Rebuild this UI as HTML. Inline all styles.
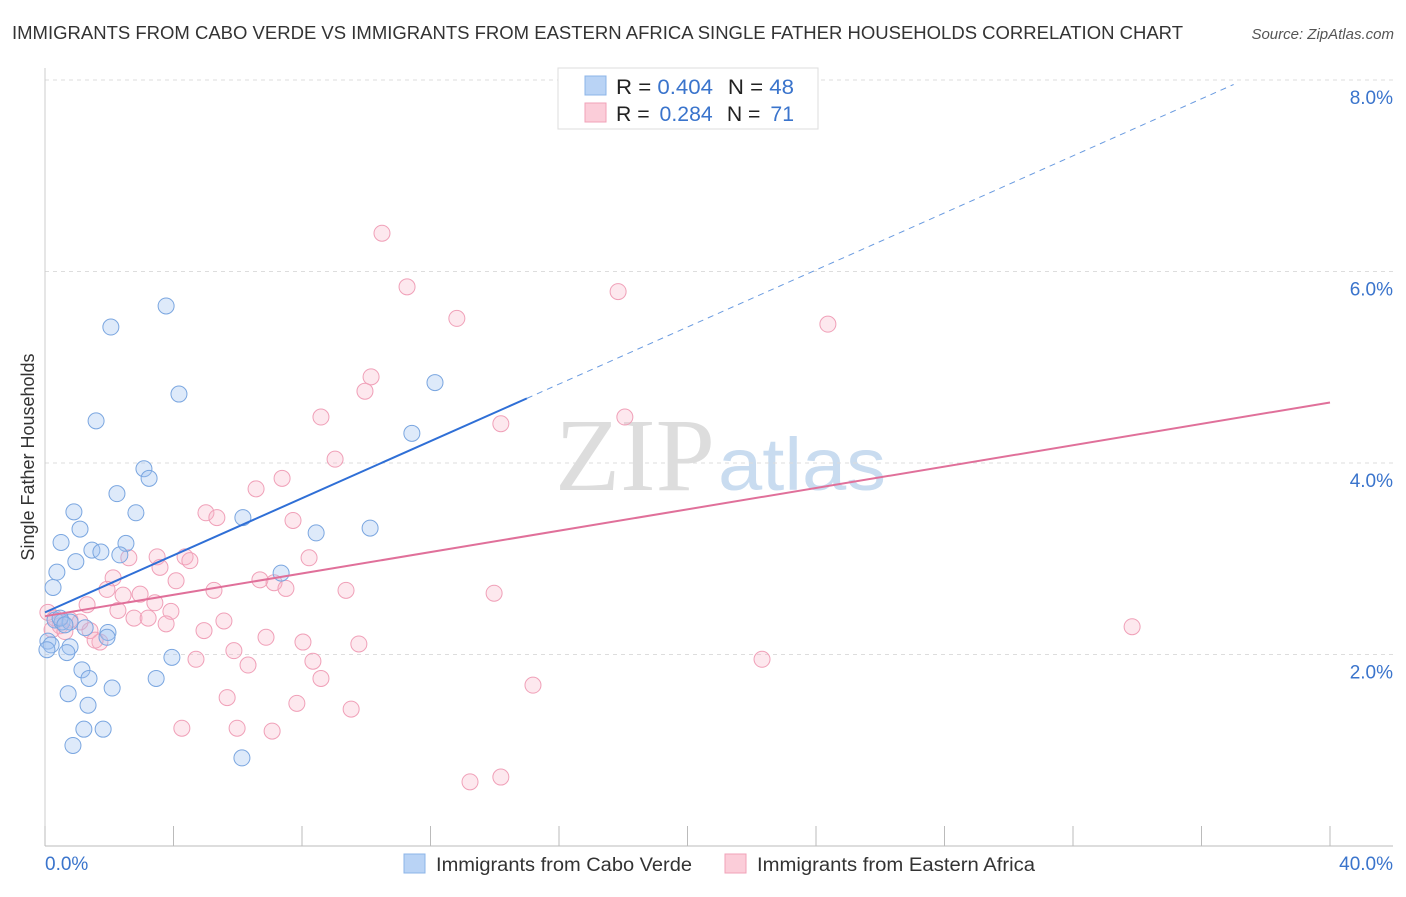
<!DOCTYPE html>
<html><head><meta charset="utf-8"><style>
body{margin:0;background:#fff;font-family:"Liberation Sans",sans-serif;}
</style></head><body>
<svg id="chart" width="1406" height="892" xmlns="http://www.w3.org/2000/svg" style="font-family:'Liberation Sans',sans-serif">
<text x="12" y="39" font-size="18" fill="#333" textLength="1171" lengthAdjust="spacingAndGlyphs">IMMIGRANTS FROM CABO VERDE VS IMMIGRANTS FROM EASTERN AFRICA SINGLE FATHER HOUSEHOLDS CORRELATION CHART</text>
<text x="1394" y="39" font-size="15" fill="#555" font-style="italic" text-anchor="end">Source: ZipAtlas.com</text>
<text x="555" y="490" font-size="104" fill="#ddd" textLength="160" lengthAdjust="spacingAndGlyphs" font-family="Liberation Serif,serif">ZIP</text>
<text x="718" y="490" font-size="74" fill="#c9dcf0" textLength="168" lengthAdjust="spacingAndGlyphs">atlas</text>
<text transform="translate(34,457) rotate(-90)" font-size="18" fill="#333" text-anchor="middle">Single Father Households</text>
<g id="grid"></g><g id="axes"></g><g id="pts"></g><g id="trend"></g>
<g>
<rect x="558" y="68" width="260" height="61" fill="#fff" stroke="#ddd"/>
<rect x="585" y="76" width="21" height="19" fill="#b9d3f5" stroke="#8cb4e8"/>
<rect x="585" y="103" width="21" height="19" fill="#fbcdd9" stroke="#f0a2b8"/>
<text x="616" y="94" font-size="21" fill="#222" textLength="178" lengthAdjust="spacingAndGlyphs">R = <tspan fill="#3a74cc">0.404</tspan><tspan dx="14">N = </tspan><tspan fill="#3a74cc">48</tspan></text>
<text x="616" y="121" font-size="21" fill="#222" textLength="178" lengthAdjust="spacingAndGlyphs">R = <tspan dx="4" fill="#3a74cc">0.284</tspan><tspan dx="14">N = </tspan><tspan dx="4" fill="#3a74cc">71</tspan></text>
</g>
<g>
<rect x="404" y="854" width="21" height="19" fill="#b9d3f5" stroke="#8cb4e8"/>
<text x="436" y="871" font-size="19" fill="#333" textLength="256" lengthAdjust="spacingAndGlyphs">Immigrants from Cabo Verde</text>
<rect x="725" y="854" width="21" height="19" fill="#fbcdd9" stroke="#f0a2b8"/>
<text x="757" y="871" font-size="19" fill="#333" textLength="278" lengthAdjust="spacingAndGlyphs">Immigrants from Eastern Africa</text>
</g>
</svg>
<script>
const yTicks=[2,4,6,8];
const xTickLabels=["0.0%","40.0%"];
const blueX=[3.77,2.05,4.17,1.59,12.14,11.42,3.08,3.24,2.24,0.90,2.83,6.16,1.09,0.50,2.52,1.46,1.74,2.33,0.96,0.37,8.44,10.12,7.35,0.25,0.31,0.53,0.78,1.25,1.96,1.93,0.09,0.19,0.06,0.78,0.68,3.95,1.15,1.37,3.46,2.09,0.72,1.34,1.21,1.81,0.87,6.13,0.47,0.62];
const blueY=[5.64,5.42,4.72,4.44,4.84,4.31,3.94,3.84,3.68,3.49,3.48,3.43,3.31,3.17,3.16,3.09,3.07,3.04,2.97,2.86,3.27,3.32,2.85,2.70,2.36,2.34,2.34,2.28,2.23,2.18,2.14,2.10,2.05,2.08,2.02,1.97,1.84,1.75,1.75,1.65,1.59,1.47,1.22,1.22,1.05,0.92,2.38,2.31];
const pinkX=[10.49,11.27,17.84,12.82,24.37,10.15,9.96,8.59,18.05,14.19,9.03,7.38,6.57,5.01,5.35,7.72,8.22,3.49,2.61,4.36,4.51,3.58,4.08,2.12,6.69,7.13,7.50,5.26,9.37,13.98,1.93,2.43,2.96,3.42,1.31,2.27,3.92,2.77,3.21,5.57,3.77,0.78,0.47,1.40,4.95,6.88,8.03,1.71,9.77,5.88,4.70,8.34,6.32,8.59,15.19,5.67,7.84,9.53,4.26,5.98,7.07,22.32,33.84,13.23,14.19,0.09,0.22,0.62,1.09,1.56,0.31];
const pinkY=[6.40,5.84,5.79,5.51,5.45,4.90,4.75,4.48,4.48,4.41,4.04,3.84,3.73,3.48,3.43,3.40,3.01,3.02,3.01,3.02,2.98,2.91,2.77,2.80,2.78,2.75,2.69,2.67,2.67,2.64,2.68,2.62,2.63,2.54,2.52,2.46,2.45,2.38,2.38,2.35,2.32,2.36,2.30,2.25,2.25,2.18,2.13,2.13,2.11,2.04,1.95,1.93,1.89,1.75,1.68,1.55,1.49,1.43,1.23,1.23,1.20,1.95,2.29,0.67,0.72,2.44,2.26,2.24,2.34,2.15,2.38];
const blueTrend=[2.44,0.149];
const pinkTrend=[2.40,0.0558];
const NS="http://www.w3.org/2000/svg";
const X=v=>45+v*32.125, Y=v=>846-v*95.75;
function mk(p,t,a){const e=document.createElementNS(NS,t);for(const k in a)e.setAttribute(k,a[k]);document.getElementById(p).appendChild(e);return e;}
yTicks.forEach(t=>{
  const l=mk('grid','line',{x1:45,x2:1393,y1:Y(t),y2:Y(t),stroke:'#ddd','stroke-dasharray':'4,4'});
  
  
  const tx=mk('grid','text',{x:1393,y:Y(t)+24,'font-size':19,fill:'#3a74cc','text-anchor':'end'});
  tx.textContent=t.toFixed(1)+'%';
  
  
});
const ax=mk('axes','line',{x1:45,x2:1393,y1:846,y2:846,stroke:'#bbb'});


const ay=mk('axes','line',{x1:45,x2:45,y1:68,y2:846,stroke:'#ccc'});


for(let i=0;i<=40;i+=4){
  const tk=mk('axes','line',{x1:X(i),x2:X(i),y1:826,y2:846,stroke:'#bbb'});
  
  
}
[[0,'start',xTickLabels[0]],[40,'end',xTickLabels[1]]].forEach(([v,a,s],i)=>{
  const t=mk('axes','text',{x:i?1393:45,y:870,'font-size':19,fill:'#3a74cc','text-anchor':a});
  t.textContent=s;
  
  
});
pinkX.forEach((x,i)=>{
  const c=mk('pts','circle',{cx:X(x),cy:Y(pinkY[i]),r:8,fill:'rgba(248,180,200,0.3)',stroke:'#f0a0b8','stroke-width':1});
  
  
});
blueX.forEach((x,i)=>{
  const c=mk('pts','circle',{cx:X(x),cy:Y(blueY[i]),r:8,fill:'rgba(160,195,240,0.35)',stroke:'#7aa6e0','stroke-width':1});
  
  
});
const b1=mk('trend','line',{x1:X(0),y1:Y(blueTrend[0]),x2:X(15),y2:Y(blueTrend[0]+blueTrend[1]*15),stroke:'#2f6fd6','stroke-width':2});


const b2=mk('trend','line',{x1:X(15),y1:Y(blueTrend[0]+blueTrend[1]*15),x2:X(37),y2:Y(blueTrend[0]+blueTrend[1]*37),stroke:'#6a9be0','stroke-width':1,'stroke-dasharray':'6,5'});


const p1=mk('trend','line',{x1:X(0),y1:Y(pinkTrend[0]),x2:X(40),y2:Y(pinkTrend[0]+pinkTrend[1]*40),stroke:'#e0709a','stroke-width':2});


</script>
</body></html>
